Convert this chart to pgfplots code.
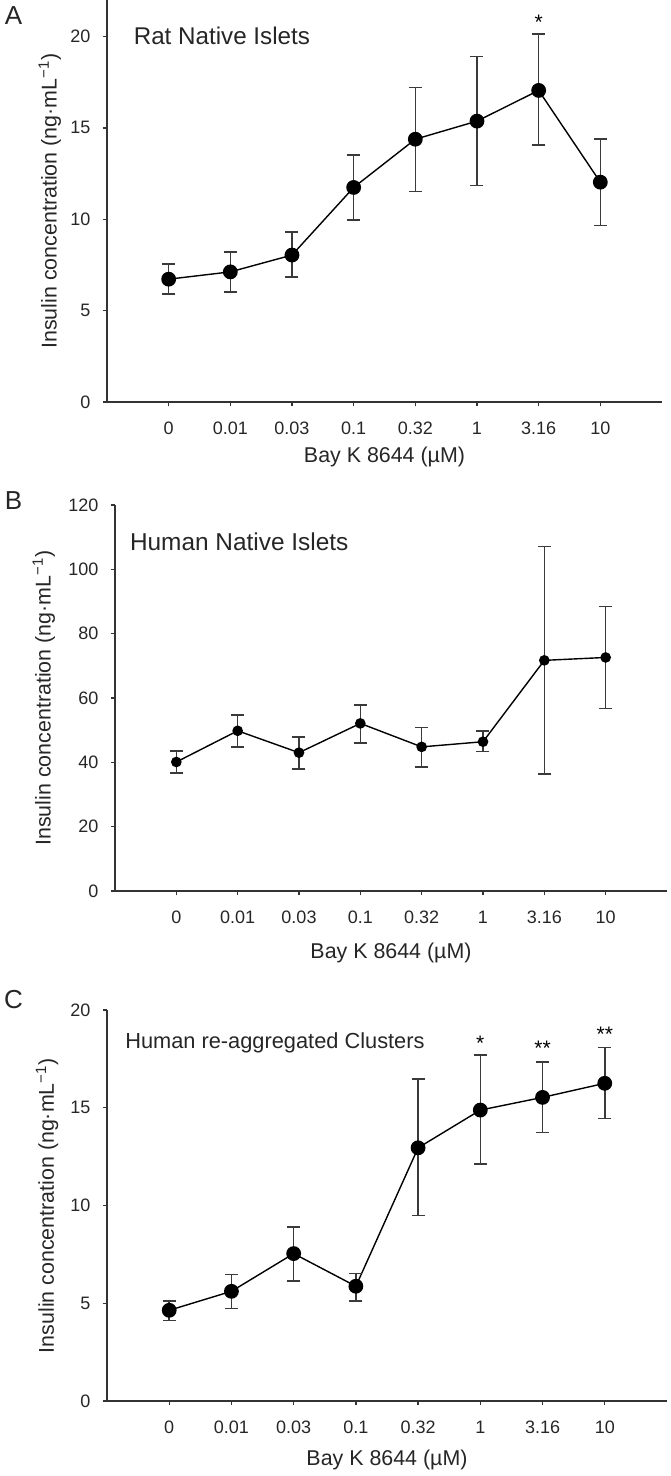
\documentclass[border=0pt]{standalone}
\usepackage{pgfplots}
\pgfplotsset{compat=1.18}
\usepackage{pgfplotstable}
\usepackage{fontspec}
\setmainfont{Liberation Sans}

\definecolor{axc}{HTML}{333333}
\definecolor{errc}{HTML}{3A3A3A}

\pgfplotstableread{
x y ep em
0 6.72 0.83 0.80
1 7.12 1.10 1.09
2 8.04 1.25 1.19
3 11.74 1.78 1.79
4 14.38 2.82 2.86
5 15.37 3.53 3.52
6 17.05 3.08 3.00
7 12.03 2.35 2.38
}\dataA

\pgfplotstableread{
x y ep em
0 40.1 3.4 3.4
1 49.8 4.9 5.0
2 43.0 4.9 5.0
3 52.1 5.7 6.1
4 44.8 6.0 6.3
5 46.4 3.4 3.0
6 71.7 35.4 35.4
7 72.6 15.9 15.8
}\dataB

\pgfplotstableread{
x y ep em
0 4.64 0.48 0.51
1 5.61 0.87 0.88
2 7.54 1.37 1.40
3 5.87 0.65 0.75
4 12.95 3.52 3.45
5 14.88 2.82 2.76
6 15.53 1.82 1.79
7 16.25 1.82 1.80
}\dataC

\pgfplotsset{
  panel/.style={
    scale only axis,
    xmin=-1, xmax=8,
    ymin=0,
    axis x line*=bottom,
    axis y line*=left,
    axis line style={color=axc, line width=0.8pt},
    tick align=outside,
    major tick length=2.2pt,
    tick style={color=axc, line width=0.7pt},
    xtick={0,...,7},
    xticklabels={0,0.01,0.03,0.1,0.32,1,3.16,10},
    /pgf/number format/assume math mode=true,
    ticklabel style={font=\fontsize{9}{10.5}\selectfont, text=black!85},
    xticklabel style={yshift=-4.2pt},
    yticklabel style={xshift=-2.6pt},
    label style={font=\fontsize{10.7}{12}\selectfont, text=black!85},
    xlabel={Bay K 8644 (µM)},
    ylabel={Insulin concentration (ng·mL\textsuperscript{−1})},
    clip=false,
  },
  series/.style={
    color=black, line width=0.7pt,
    mark=*, mark options={fill=black, draw=black},
    error bars/y dir=both,
    error bars/y explicit,
    error bars/error bar style={line width=0.75pt, color=errc},
    error bars/error mark options={rotate=90, mark size=3.25pt, line width=0.75pt, color=errc},
  },
}

\begin{document}
\begin{tikzpicture}
\path[use as bounding box] (0,0) rectangle (335pt,738pt);

% Panel A
\begin{axis}[panel,
  at={(53.5pt,537pt)}, anchor=south west,
  width=277.5pt, height=201pt,
  ymax=22, ytick={0,5,10,15,20},
  xlabel style={at={(axis description cs:0.5,-0.137)}, anchor=center},
  ylabel style={at={(axis description cs:-0.103,0.5)}, anchor=center},
]
\addplot[series, mark size=3.35pt] table[x=x, y=y, y error plus=ep, y error minus=em] {\dataA};
\node[anchor=west, font=\fontsize{12.1}{14}\selectfont, text=black!85] at (axis cs:-0.68,20.05) {Rat Native Islets};
\node[font=\fontsize{10.5}{12}\selectfont] at (axis cs:6,20.8) {*};
\end{axis}

% Panel B
\begin{axis}[panel,
  at={(57.5pt,292.5pt)}, anchor=south west,
  width=276pt, height=193pt,
  ymax=120, ytick={0,20,40,60,80,100,120},
  xlabel style={at={(axis description cs:0.5,-0.161)}, anchor=center},
  ylabel style={at={(axis description cs:-0.129,0.5)}, anchor=center},
]
\addplot[series, mark size=2.3pt] table[x=x, y=y, y error plus=ep, y error minus=em] {\dataB};
\node[anchor=west, font=\fontsize{12.2}{14}\selectfont, text=black!85] at (axis cs:-0.87,108.5) {Human Native Islets};
\end{axis}

% Panel C
\begin{axis}[panel,
  at={(53.5pt,37.5pt)}, anchor=south west,
  width=280pt, height=195.5pt,
  ymax=20, ytick={0,5,10,15,20},
  xlabel style={at={(axis description cs:0.5,-0.151)}, anchor=center},
  ylabel style={at={(axis description cs:-0.107,0.5)}, anchor=center},
]
\addplot[series, mark size=3.35pt] table[x=x, y=y, y error plus=ep, y error minus=em] {\dataC};
\node[anchor=west, font=\fontsize{10.9}{13}\selectfont, text=black!85] at (axis cs:-0.82,18.3) {Human re-aggregated Clusters};
\node[font=\fontsize{10.5}{12}\selectfont] at (axis cs:5,18.3) {*};
\node[font=\fontsize{10.5}{12}\selectfont] at (axis cs:6,18.05) {**};
\node[font=\fontsize{10.5}{12}\selectfont] at (axis cs:7,18.75) {**};
\end{axis}

% Panel letters
\node[font=\fontsize{13}{15}\selectfont, text=black!85] at (6.8pt,730pt) {A};
\node[font=\fontsize{13}{15}\selectfont, text=black!85] at (6.8pt,487.5pt) {B};
\node[font=\fontsize{13}{15}\selectfont, text=black!85] at (6.8pt,238pt) {C};
\end{tikzpicture}
\end{document}
